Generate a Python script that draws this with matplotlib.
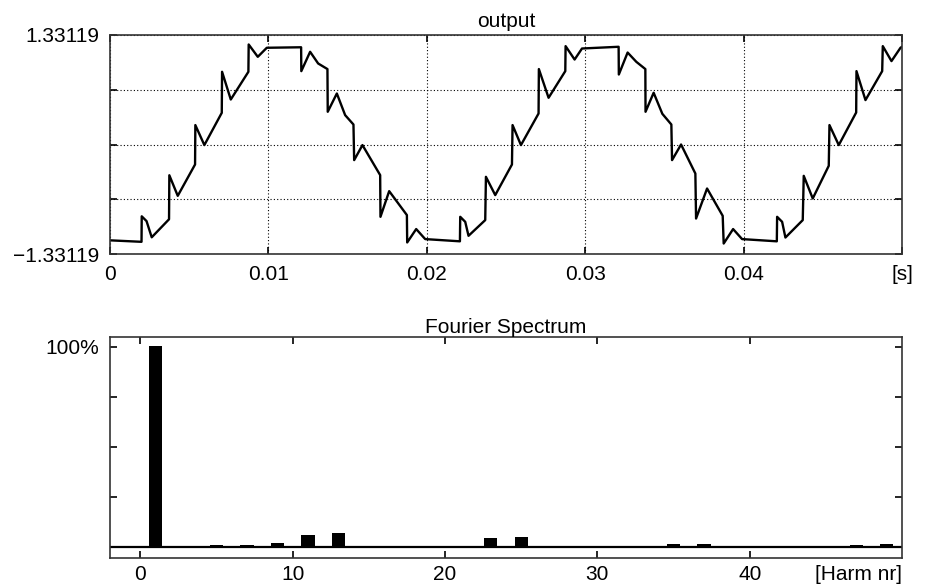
import matplotlib
matplotlib.use("Agg")
import matplotlib.pyplot as plt

plt.rcParams['font.family'] = ['Liberation Sans', 'DejaVu Sans']
plt.rcParams['font.size'] = 15

# ---- output waveform (time in s, value) ----
t_out = [0.0, 0.001990, 0.002003, 0.002306, 0.002634, 0.003727, 0.003746, 0.004277,
         0.005370, 0.005388, 0.005957, 0.007056, 0.007075, 0.007625, 0.008737, 0.008755,
         0.009330, 0.009899, 0.012066, 0.012078, 0.012634, 0.013140, 0.013727, 0.013746,
         0.014321, 0.014845, 0.015370, 0.015414, 0.015938, 0.017056, 0.017075, 0.017625,
         0.018743, 0.018762, 0.019330, 0.019899, 0.022091,
         0.022110, 0.022426, 0.022634, 0.023689, 0.023733, 0.024321, 0.025376, 0.025414,
         0.025944, 0.027056, 0.027075, 0.027688, 0.028743, 0.028762, 0.029331, 0.029798,
         0.032110, 0.032123, 0.032678, 0.033228, 0.033797, 0.033809, 0.034321, 0.034870,
         0.035439, 0.035483, 0.036052, 0.036955, 0.036999, 0.037694, 0.038680, 0.038743,
         0.039337, 0.039905, 0.042097,
         0.042116, 0.042432, 0.042640, 0.043734, 0.043797, 0.044365, 0.045376, 0.045420,
         0.046008, 0.047107, 0.047126, 0.047694, 0.048749, 0.048787, 0.049336, 0.049905,
         0.050000]
v_out = [-1.165, -1.183, -0.873, -0.931, -1.128, -0.909, -0.374, -0.624,
         -0.243, 0.236, -0.007, 0.385, 0.884, 0.547, 0.884, 1.216,
         1.066, 1.176, 1.182, 0.892, 1.127, 0.985, 0.917, 0.398,
         0.620, 0.357, 0.243, -0.190, -0.007, -0.372, -0.879, -0.567,
         -0.858, -1.191, -1.028, -1.150, -1.177,
         -0.879, -0.940, -1.110, -0.919, -0.393, -0.615, -0.243, 0.236,
         -0.007, 0.377, 0.917, 0.568, 0.892, 1.196, 1.033, 1.167,
         1.188, 0.851, 1.118, 1.005, 0.917, 0.398, 0.629, 0.373,
         0.243, -0.190, 0.000, -0.353, -0.900, -0.535, -0.867, -1.204,
         -1.028, -1.150, -1.177,
         -0.879, -0.940, -1.131, -0.919, -0.381, -0.656, -0.259, 0.236,
         -0.007, 0.389, 0.892, 0.540, 0.892, 1.196, 1.014, 1.176,
         1.188]

y_lim = 1.33119
x_ticks_top = [0, 0.01, 0.02, 0.03, 0.04, 0.05]
x_ticklabels_top = ['0', '0.01', '0.02', '0.03', '0.04', '[s]']

# ---- Fourier spectrum (% of fundamental) ----
harm = [1, 3, 5, 7, 9, 11, 13, 15, 17, 19, 21, 23, 25, 27, 29, 31, 33,
        35, 37, 39, 41, 43, 45, 47, 49]
amp = [100.5, 0.8, 1.3, 1.3, 2.0, 6.0, 7.1, 0.2, 0.2, 0.2, 0.8, 4.5, 5.0, 0.2, 0.2, 0.2, 0.2,
       1.8, 1.8, 0.2, 0.2, 0.2, 0.2, 1.2, 1.8]
x_ticks_bot = [0, 10, 20, 30, 40]

W, H = 930, 586
fig = plt.figure(figsize=(W / 100, H / 100), dpi=100)

spine_col = '#333333'

# top axes
ax1 = fig.add_axes([110 / W, 1 - 254 / H, 792 / W, 219 / H])
ax1.plot(t_out, v_out, color='black', lw=1.7)
ax1.set_xlim(0, 0.05)
ax1.set_ylim(-y_lim, y_lim)
ax1.set_xticks(x_ticks_top)
ax1.set_xticklabels(x_ticklabels_top)
ax1.set_yticks([-y_lim, -y_lim / 2, 0, y_lim / 2, y_lim])
ax1.set_yticklabels(['\u22121.33119', '', '', '', '1.33119'])
ax1.grid(True, color='black', linestyle=(0, (1, 2)), lw=0.8)
ax1.tick_params(direction='in', length=5, width=1.2, top=True, right=True,
                pad=8, colors='black', labelsize=15)
ax1.set_title('output', fontsize=15, pad=6)
for s in ax1.spines.values():
    s.set_color(spine_col)
    s.set_linewidth(1.2)

# bottom axes
ax2 = fig.add_axes([110 / W, 1 - 557.7 / H, 792 / W, 221 / H])
ax2.axhline(0, color='black', lw=1.6, zorder=1)
ax2.bar(harm, amp, width=0.88, color='black', zorder=2)
ax2.set_xlim(-2, 50)
ax2.set_ylim(-5.2, 105)
ax2.set_xticks(x_ticks_bot)
ax2.set_yticks([0, 25, 50, 75, 100])
ax2.set_yticklabels(['', '', '', '', '100%'])
ax2.tick_params(direction='in', length=5, width=1.2, top=True, right=True,
                pad=8, colors='black', labelsize=15)
ax2.tick_params(axis='x', pad=5)
ax2.set_title('Fourier Spectrum', fontsize=15, pad=3)
ax2.text(1.0, -0.035, '[Harm nr]', transform=ax2.transAxes, ha='right', va='top',
         fontsize=15)
for s in ax2.spines.values():
    s.set_color(spine_col)
    s.set_linewidth(1.2)

fig.savefig('out.png', dpi=100)
